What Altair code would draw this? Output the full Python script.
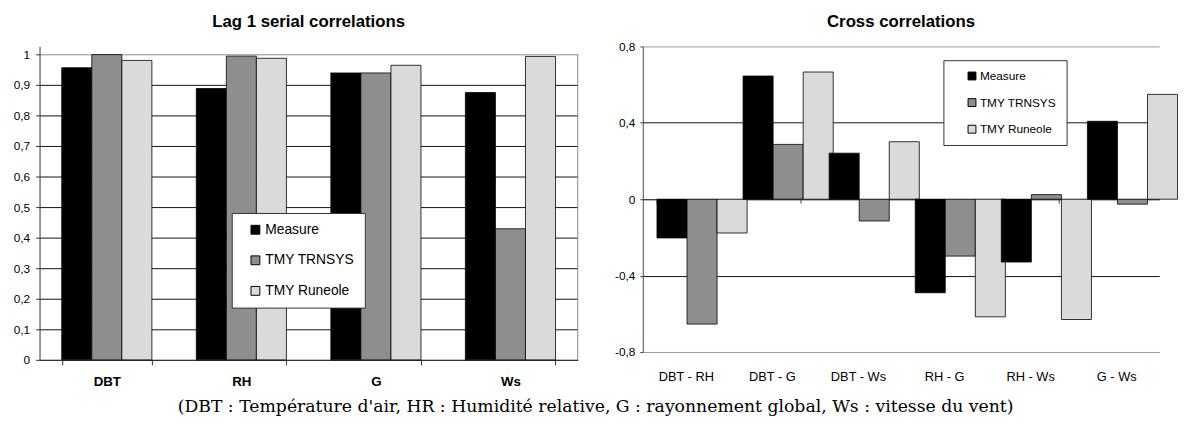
import altair as alt
import pandas as pd

FONT = "Liberation Sans"

series = ["Measure", "TMY TRNSYS", "TMY Runeole"]
series_colors = ["#000000", "#8e8e8e", "#dadada"]

lag_vars = ["DBT", "RH", "G", "Ws"]
lag_measure = [0.956, 0.888, 0.939, 0.875]
lag_trnsys = [0.999, 0.994, 0.939, 0.429]
lag_runeole = [0.980, 0.987, 0.964, 0.993]
lag_ticks = [0, 0.1, 0.2, 0.3, 0.4, 0.5, 0.6, 0.7, 0.8, 0.9, 1]

cross_pairs = ["DBT - RH", "DBT - G", "DBT - Ws", "RH - G", "RH - Ws", "G - Ws"]
cross_measure = [-0.203, 0.645, 0.241, -0.490, -0.329, 0.408]
cross_trnsys = [-0.654, 0.287, -0.114, -0.298, 0.024, -0.026]
cross_runeole = [-0.177, 0.666, 0.301, -0.616, -0.630, 0.549]
cross_ticks = [-0.8, -0.4, 0, 0.4, 0.8]

caption = "(DBT : Température d'air, HR : Humidité relative, G : rayonnement global, Ws : vitesse du vent)"


def make_df(cats, m, t, r):
    rows = []
    for i, c in enumerate(cats):
        for s, vals in zip(series, [m, t, r]):
            rows.append({"cat": c, "series": s, "value": vals[i]})
    return pd.DataFrame(rows)


df_lag = make_df(lag_vars, lag_measure, lag_trnsys, lag_runeole)
df_cross = make_df(cross_pairs, cross_measure, cross_trnsys, cross_runeole)
df_frame = pd.DataFrame({"value": [0], "hi": [1]})

comma_fmt = "(datum.value < 0 ? '-' : '') + replace(format(abs(datum.value), '.1~f'), '.', ',')"
color_scale = alt.Scale(domain=series, range=series_colors)

LW, LH = 546, 318   # left plot (extra headroom above 1 so that it sits lower than the right one)
RW, RH = 524, 310

lag_y_scale = alt.Scale(domain=[0, 1.0258], nice=False)
lag_y_axis = alt.Axis(values=lag_ticks, labelExpr=comma_fmt, labelFont=FONT, labelFontSize=12,
                      labelColor="black", tickSize=4, tickColor="#333", domainColor="#333",
                      labelPadding=6, labelOverlap=False, grid=True, gridOpacity=1,
                      gridColor={"condition": {"test": "datum.value == 1", "value": "#888"},
                                 "value": "#111"})

lag_bars = alt.Chart(df_lag).mark_bar(stroke="black", strokeWidth=0.8).encode(
    x=alt.X("cat:N", sort=lag_vars, title=None,
            scale=alt.Scale(paddingInner=0.33, paddingOuter=0.165),
            axis=alt.Axis(labelAngle=0, labelFontWeight="bold", labelFontSize=13.5, labelFont=FONT,
                          labelColor="black", tickBand="extent", tickSize=5, tickColor="#333",
                          domainColor="#333", labelPadding=10)),
    xOffset=alt.XOffset("series:N", sort=series, scale=alt.Scale(paddingInner=0, paddingOuter=0)),
    y=alt.Y("value:Q", title=None, scale=lag_y_scale, axis=lag_y_axis),
    color=alt.Color("series:N", scale=color_scale, sort=series,
                    legend=alt.Legend(orient="none", legendX=195, legendY=169, title=None,
                                      symbolType="square", symbolSize=81, symbolStrokeColor="black",
                                      symbolStrokeWidth=1, labelFontSize=14, labelFont=FONT,
                                      labelColor="black", rowPadding=17, padding=10, symbolOffset=7,
                                      labelOffset=3, fillColor="white", strokeColor="#333")),
)

lag_frame = alt.Chart(df_frame).mark_rule(color="#888", strokeWidth=1).encode(
    x=alt.value(LW),
    y=alt.Y("value:Q", title=None, scale=lag_y_scale, axis=lag_y_axis),
    y2=alt.Y2("hi:Q"),
)

left = alt.layer(lag_bars, lag_frame).properties(
    width=LW, height=LH,
    view=alt.ViewBackground(stroke=None),
    title=alt.TitleParams("Lag 1 serial correlations", font=FONT, fontSize=17, fontWeight="bold",
                          color="black", anchor="middle", offset=16),
)

right = alt.Chart(df_cross).mark_bar(stroke="black", strokeWidth=0.8).encode(
    x=alt.X("cat:N", sort=cross_pairs, title=None,
            scale=alt.Scale(paddingInner=0.33, paddingOuter=0.165),
            axis=alt.Axis(labelAngle=0, labelFontSize=13, labelFont=FONT, labelColor="black",
                          tickBand="extent", tickSize=4, tickColor="#444", domainColor="#444",
                          offset=-RH / 2, labelPadding=170)),
    xOffset=alt.XOffset("series:N", sort=series, scale=alt.Scale(paddingInner=0, paddingOuter=0)),
    y=alt.Y("value:Q", title=None, scale=alt.Scale(domain=[-0.8, 0.8], nice=False),
            axis=alt.Axis(values=cross_ticks, labelExpr=comma_fmt, labelFont=FONT, labelFontSize=12,
                          labelColor="black", tickSize=3, tickColor="#444", domainColor="#444",
                          labelPadding=5, grid=True, gridOpacity=1,
                          gridColor={"condition": {"test": "abs(datum.value) > 0.7", "value": "#999"},
                                     "value": "#111"})),
    color=alt.Color("series:N", scale=color_scale, sort=series,
                    legend=alt.Legend(orient="none", legendX=305, legendY=14, title=None,
                                      symbolType="square", symbolSize=64, symbolStrokeColor="black",
                                      symbolStrokeWidth=1, labelFontSize=12, labelFont=FONT,
                                      labelColor="black", rowPadding=15, padding=10, symbolOffset=13,
                                      labelOffset=2, fillColor="white", strokeColor="#333")),
).properties(
    width=RW, height=RH,
    view=alt.ViewBackground(stroke=None),
    title=alt.TitleParams("Cross correlations", font=FONT, fontSize=17, fontWeight="bold",
                          color="black", anchor="middle", offset=10),
)

chart = alt.hconcat(left, right, spacing=36).resolve_scale(color="independent").resolve_legend(
    color="independent"
).properties(
    title=alt.TitleParams(caption, orient="bottom", anchor="middle", font="DejaVu Serif", fontSize=17.5,
                          fontWeight="normal", color="black", offset=10),
    padding={"left": 5, "right": 0, "top": 2, "bottom": 0},
).configure(background="white")

chart.save("out.html", embed_options={"renderer": "svg", "actions": False})
